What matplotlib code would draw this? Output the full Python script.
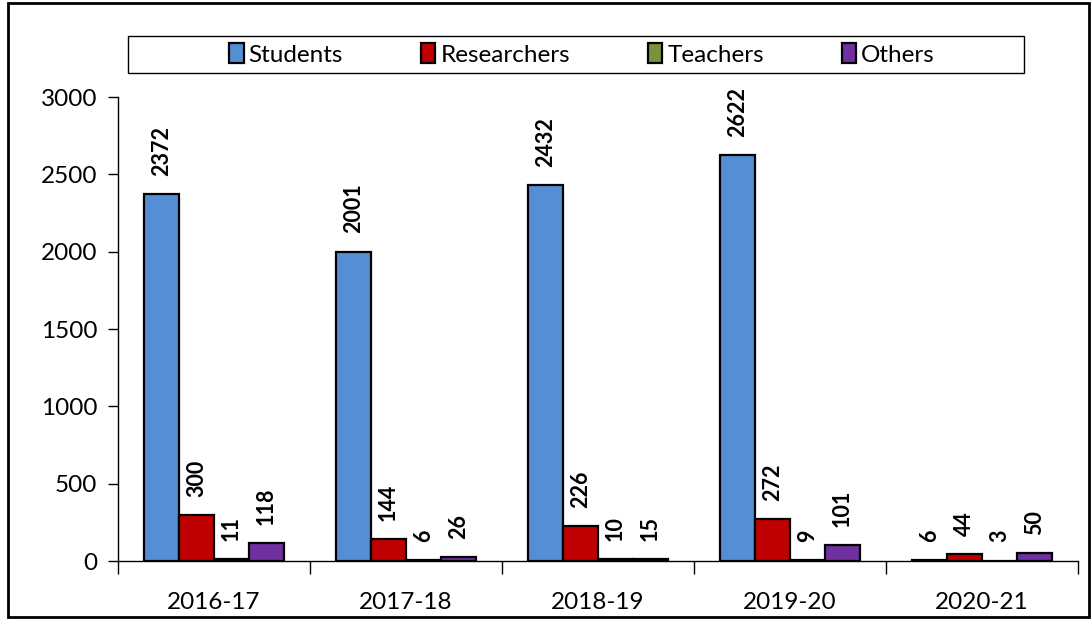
import numpy as np
import matplotlib
matplotlib.use("Agg")
import matplotlib.pyplot as plt
from matplotlib.patches import Rectangle

plt.rcParams['font.family'] = ['Lato', 'DejaVu Sans']

# data
years = ["2016-17", "2017-18", "2018-19", "2019-20", "2020-21"]
students = [2372, 2001, 2432, 2622, 6]
researchers = [300, 144, 226, 272, 44]
teachers = [11, 6, 10, 9, 3]
others = [118, 26, 15, 101, 50]

series = [("Students", students, "#558ED5"),
          ("Researchers", researchers, "#C00000"),
          ("Teachers", teachers, "#77933C"),
          ("Others", others, "#7030A0")]

fig = plt.figure(figsize=(10.92, 6.19), dpi=100)
ax = fig.add_axes([118/1092, 1 - 561/619, 960/1092, 464/619])

x = np.arange(len(years))
w = 0.182
for i, (name, vals, col) in enumerate(series):
    pos = x + (i - 1.5) * w
    bars = ax.bar(pos, vals, w, color=col, edgecolor="black", linewidth=1.6, label=name)
    for b, v in zip(bars, vals):
        ax.annotate(str(v), (b.get_x() + b.get_width() / 2, v),
                    xytext=(0, 13), textcoords="offset points",
                    ha="center", va="bottom", rotation=90,
                    fontsize=15.5, fontweight="bold")

ax.set_xlim(-0.5, len(years) - 0.5)
ax.set_ylim(0, 3000)
ax.set_yticks(range(0, 3001, 500))
ax.tick_params(axis="y", labelsize=17.5, length=7, width=1, direction="out", pad=8)
ax.set_xticks(x)
ax.set_xticklabels(years)
ax.tick_params(axis="x", which="major", length=0, labelsize=17.5, pad=22)
ax.set_xticks(np.arange(len(years) + 1) - 0.5, minor=True)
ax.tick_params(axis="x", which="minor", length=9, width=1, direction="out")
for s in ["top", "right"]:
    ax.spines[s].set_visible(False)
ax.spines["left"].set_linewidth(1)
ax.spines["bottom"].set_linewidth(1)

# legend box
fig.patches.append(Rectangle((128/1092, 1 - 73/619), 896/1092, 37/619,
                             transform=fig.transFigure, fill=False,
                             edgecolor="black", linewidth=1))
fig.legend(loc="center", bbox_to_anchor=(582/1092, 1 - 54.5/619), ncol=4,
           frameon=False, fontsize=17.5, handlelength=0.6, handleheight=0.9,
           handletextpad=0.2, columnspacing=3.2)

# outer border
fig.patches.append(Rectangle((8/1092, 2/619), 1081/1092, 614/619,
                             transform=fig.transFigure, fill=False,
                             edgecolor="black", linewidth=2))

fig.savefig("out.png", dpi=100)
